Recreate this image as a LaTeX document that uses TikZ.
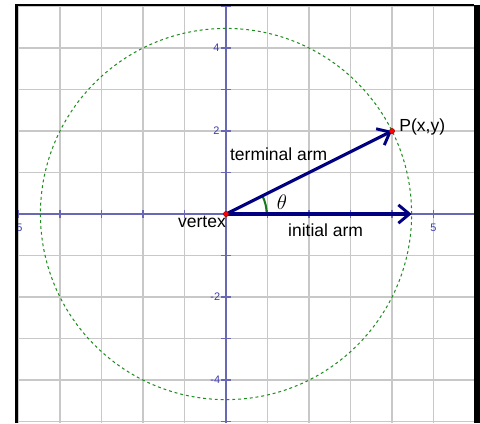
\documentclass[tikz,border=0pt]{standalone}
\usepackage{fontspec}
\setmainfont{Liberation Sans}
\usepackage{tikz}
\usetikzlibrary{arrows.meta}

\definecolor{gridgray}{RGB}{200,200,200}
\definecolor{axisblue}{RGB}{104,104,180}
\definecolor{ticktext}{RGB}{60,60,170}
\definecolor{armblue}{RGB}{0,0,128}
\definecolor{circgreen}{RGB}{30,140,30}

\begin{document}
\begin{tikzpicture}[x=1cm,y=1cm]
  \tikzstyle{gridline}=[draw=gridgray, line width=1pt]
  \tikzstyle{axisline}=[draw=axisblue, line width=1.2pt]
  \tikzstyle{ticklabel}=[text=ticktext, font=\fontsize{7.5}{8}\selectfont, inner sep=0pt]
  \tikzstyle{armlabel}=[font=\fontsize{12}{14}\selectfont, inner sep=0pt]
  \tikzstyle{arm}=[draw=armblue, line width=2.1pt, -{Straight Barb[length=7.5pt, width=12.5pt, line width=2pt]}]
  \tikzstyle{dotpt}=[circle, fill=red, draw=red!60!black, line width=0.3pt, inner sep=0pt, minimum size=3.6pt]
  \useasboundingbox (-5.446,-5.036) rectangle (6.12,5.157);
  \begin{scope}
    \clip (-5.05,-5.036) rectangle (5.976,5.036);
    \draw[gridline] (-5.05,-5.04) grid (5.98,5.04);
    \draw[axisline] (-5.05,0) -- (5.98,0);
    \draw[axisline] (0,-5.04) -- (0,5.04);
    \foreach \t in {-5,...,5} {
      \draw[axisline] (\t,-0.1) -- (\t,0.1);
      \draw[axisline] (-0.11,\t) -- (0.11,\t);
    }
    \node[ticklabel] (ym4) at (-0.26,-4) {-4};
    \node[ticklabel] (ym2) at (-0.26,-2) {-2};
    \node[ticklabel] (yp2) at (-0.23,2) {2};
    \node[ticklabel] (yp4) at (-0.23,4) {4};
    \node[ticklabel] (xm5) at (-5.02,-0.32) {-5};
    \node[ticklabel] (xp5) at (5,-0.32) {5};
    \draw[circgreen, line width=0.7pt, dash pattern=on 2pt off 2pt] (0,0) circle ({sqrt(20)});
  \end{scope}
  \coordinate (O) at (0,0);
  \coordinate (P) at (4,2);
  \coordinate (A) at ({sqrt(20)},0);
  \draw[circgreen!85!black, line width=1.4pt] (0.98,0) arc[start angle=0, end angle=26.57, radius=0.98];
  \draw[arm] (O) -- (A);
  \draw[arm] (O) -- (P);
  \node[dotpt] (origin) at (O) {};
  \node[dotpt] (ptP) at (P) {};
  \node[armlabel, font=\fontsize{14.5}{16}\selectfont] (theta) at (1.35,0.29) {$\theta$};
  \node[armlabel] (vertex) at (-0.58,-0.2) {vertex};
  \node[armlabel] (initial) at (2.4,-0.4) {initial arm};
  \node[armlabel] (terminal) at (1.27,1.45) {terminal arm};
  \node[armlabel] (Plabel) at (4.73,2.1) {P(x,y)};
  \draw[black, line width=1.7pt] (-5.05,-5.036) -- (-5.05,5.036) -- (5.976,5.036);
  \fill[black] (5.976,-5.036) rectangle (6.12,5.036);
\end{tikzpicture}
\end{document}
